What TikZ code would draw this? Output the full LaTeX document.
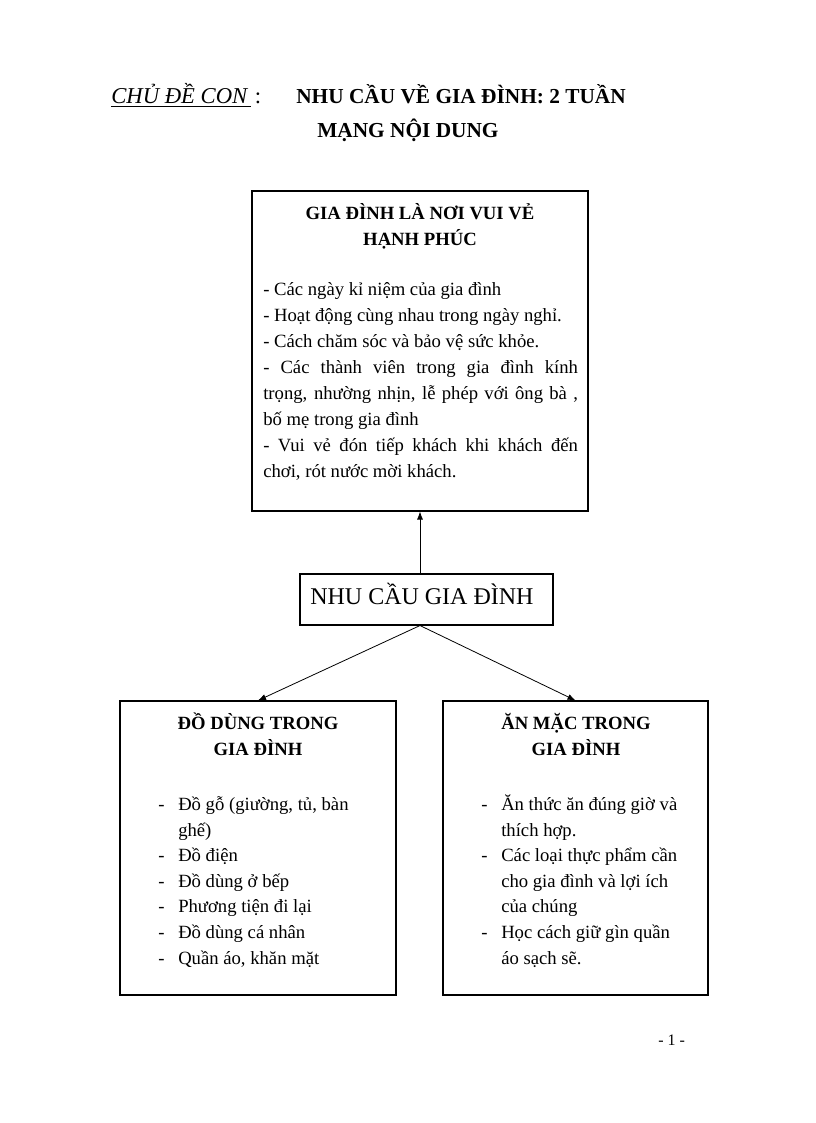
\documentclass[tikz,border=0pt]{standalone}
\usepackage{fontspec}
\setmainfont{Liberation Serif}
\usetikzlibrary{arrows.meta, fit, positioning}

\newcommand{\dashitem}[1]{\makebox[15pt][l]{-}#1}
\newcommand{\contline}[1]{\hspace*{15pt}#1}

\begin{document}
\begin{tikzpicture}[
			x=0.75pt, y=-0.75pt, % one unit is one pixel of the page
			frame/.style={draw, line width=0.8pt, inner sep=0pt},
			head/.style={
					font=\fontsize{14}{19.5}\selectfont\bfseries,
					align=center,
					inner sep=0pt,
					anchor=base % baseline of the last line
				},
			body/.style={
					font=\fontsize{14}{19.5}\selectfont,
					align=left,
					inner sep=0pt,
					anchor=base west % baseline of the last line
				},
			list/.style={body, font=\fontsize{14}{19.2}\selectfont},
			link/.style={->, >={Latex[length=6pt, width=4.5pt]}, line width=0.6pt}
		]
		\useasboundingbox (0,0) rectangle (816,1123);

		% page title
		\node[inner sep=0pt, anchor=base west, font=\fontsize{17}{20}\selectfont\itshape] (topic) at (111,104) {\underline{CHỦ ĐỀ CON\,}\,{\upshape :}};
		\node[inner sep=0pt, anchor=base west, font=\fontsize{16}{20}\selectfont\bfseries] (title) at (296,104) {NHU CẦU VỀ GIA ĐÌNH: 2 TUẦN};
		\node[inner sep=0pt, anchor=base west, font=\fontsize{16}{20}\selectfont\bfseries] (subtitle) at (317,138) {MẠNG NỘI DUNG};

		% boxes
		\node[frame, fit={(252,191) (588,511)}] (family) {};
		\node[frame, fit={(300,574) (553,625)}] (needs) {};
		\node[frame, fit={(120,701) (396,995)}] (things) {};
		\node[frame, fit={(443,701) (708,995)}] (clothes) {};

		% top box
		\node[head] (familyhead) at (420,245) {GIA ĐÌNH LÀ NƠI VUI VẺ\\HẠNH PHÚC};
		\node[body] (familylist) at (263,477) {- Các ngày kỉ niệm của gia đình\\
			- Hoạt động cùng nhau trong ngày nghỉ.\\
			- Cách chăm sóc và bảo vệ sức khỏe.\\
			\makebox[236pt][s]{- Các thành viên trong gia đình kính}\\
			\makebox[236pt][s]{trọng, nhường nhịn, lễ phép với ông bà ,}\\
			bố mẹ trong gia đình\\
			\makebox[236pt][s]{- Vui vẻ đón tiếp khách khi khách đến}\\
			chơi, rót nước mời khách.};

		% centre box
		\node[inner sep=0pt, anchor=base west, font=\fontsize{18}{20}\selectfont] (needstext) at (310,604) {NHU CẦU GIA ĐÌNH};

		% left box
		\node[head] (thingshead) at (258,755) {ĐỒ DÙNG TRONG\\GIA ĐÌNH};
		\node[list] (thingslist) at (158,964) {\dashitem{Đồ gỗ (giường, tủ, bàn}\\
			\contline{ghế)}\\
			\dashitem{Đồ điện}\\
			\dashitem{Đồ dùng ở bếp}\\
			\dashitem{Phương tiện đi lại}\\
			\dashitem{Đồ dùng cá nhân}\\
			\dashitem{Quần áo, khăn mặt}};

		% right box
		\node[head] (clotheshead) at (576,755) {ĂN MẶC TRONG\\GIA ĐÌNH};
		\node[list] (clotheslist) at (481,964) {\dashitem{Ăn thức ăn đúng giờ và}\\
			\contline{thích hợp.}\\
			\dashitem{Các loại thực phẩm cần}\\
			\contline{cho gia đình và lợi ích}\\
			\contline{của chúng}\\
			\dashitem{Học cách giữ gìn quần}\\
			\contline{áo sạch sẽ.}};

		% connectors
		\coordinate (fork) at (needs.south -| family.south);
		\draw[link] (family.south |- needs.north) -- (family.south);
		\draw[link] (fork) -- (things.north);
		\draw[link] (fork) -- (clothes.north);

		\node[inner sep=0pt, anchor=base west, font=\fontsize{12}{14}\selectfont] (page) at (658,1045) {- 1 -};
	\end{tikzpicture}
\end{document}
